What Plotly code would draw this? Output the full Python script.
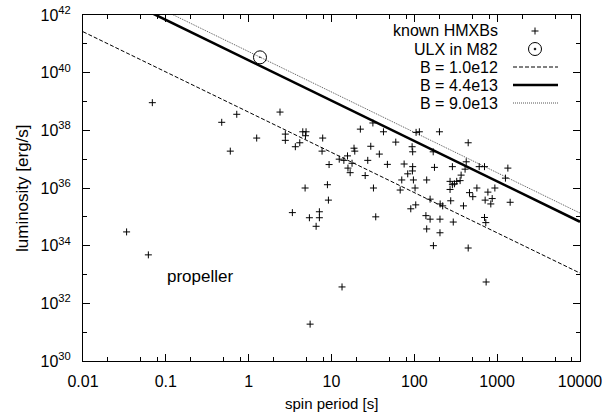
import plotly.graph_objects as go

# ---- data ----
hmxb_period = [0.0336, 0.0615, 0.0687, 0.473, 0.718, 0.60,
               2.39, 1.25, 2.77, 2.77, 4.50, 4.93, 4.85, 4.14, 3.66, 7.83, 7.69, 9.35,
               12.4, 14.1, 15.6, 17.7, 15.8, 16.8, 18.7, 19.1, 22.3, 25.5, 27.4, 29.8,
               37.8, 32.1, 31.6, 42.4, 59.7, 47.3, 75.3, 83.2, 70.5, 67.5,
               4.80, 8.93, 9.18, 3.37, 5.41, 7.14, 7.14, 6.52, 34.2,
               5.52, 13.4, 736,
               105, 115, 201, 94.0, 95.5, 169, 447, 94.8, 95.5, 97.5, 102, 141, 175,
               288, 367, 357, 410, 423, 270, 288, 270, 305, 325, 607, 703, 569, 463,
               508, 773, 716, 871, 838, 938, 1346, 1259, 1435, 155, 205, 220, 275,
               392, 104, 90.6, 138, 155, 204, 295, 141, 204, 170, 447, 703, 729]
hmxb_lum = [3.0e34, 4.8e33, 9.1e38, 1.9e38, 3.6e38, 1.9e37,
            4.3e38, 5.4e37, 7.4e37, 4.5e37, 8.9e37, 8.9e37, 6.5e37, 3.7e37, 2.7e37, 5.4e37, 1.9e37, 6.5e36,
            1.0e37, 9.1e36, 1.3e37, 7.2e36, 4.9e36, 3.4e36, 2.4e37, 1.9e37, 1.1e38, 2.7e36, 9.1e36, 2.8e37,
            1.5e37, 1.0e36, 1.8e38, 8.9e37, 3.9e37, 6.6e36, 6.8e36, 3.1e36, 1.9e36, 8.5e35,
            1.0e36, 1.3e36, 3.8e35, 1.4e35, 9.3e34, 1.5e35, 9.3e34, 4.7e34, 1.0e35,
            1.9e31, 3.7e32, 5.5e32,
            8.5e37, 8.9e37, 8.9e37, 2.7e37, 1.8e37, 1.8e37, 3.7e37, 3.9e36, 5.5e36, 1.9e36, 1.0e36, 1.9e36, 5.2e36,
            5.5e36, 2.8e36, 1.8e36, 4.5e36, 8.1e36, 1.7e36, 1.3e36, 8.9e35, 1.4e36, 1.7e36, 5.5e36, 5.5e36, 1.0e36, 6.9e35,
            5.0e35, 7.2e35, 3.8e35, 4.3e35, 2.8e35, 1.0e36, 4.9e36, 2.2e36, 3.2e35, 4.1e35, 2.8e35, 2.4e35, 3.6e35,
            2.4e35, 2.6e35, 1.9e35, 1.1e35, 8.3e34, 8.3e34, 6.6e34, 3.8e34, 2.8e34, 1.0e34, 8.3e33, 9.5e34, 6.3e34]

ulx_period = [1.37]
ulx_lum = [3.4e40]

line_period = [0.01, 10000]
line_b_1_0e12 = [2.63e41, 1.12e33]
line_b_4_4e13 = [1.70e43, 6.76e34]
line_b_9_0e13 = [3.39e43, 1.35e35]

legend_labels = ["known HMXBs", "ULX in M82", "B = 1.0e12", "B = 4.4e13", "B = 9.0e13"]

x_tickvals = [0.01, 0.1, 1, 10, 100, 1000, 10000]
x_ticktext = ["0.01", "0.1", "1", "10", "100", "1000", "10000"]
x_minorvals = [m * d for d in [0.01, 0.1, 1, 10, 100, 1000] for m in (2, 5, 8)]
y_tickvals = [1e30, 1e32, 1e34, 1e36, 1e38, 1e40, 1e42]
y_ticktext = ["10<sup>30</sup>", "10<sup>32</sup>", "10<sup>34</sup>", "10<sup>36</sup>",
              "10<sup>38</sup>", "10<sup>40</sup>", "10<sup>42</sup>"]
y_minorvals = [1e31, 1e33, 1e35, 1e37, 1e39, 1e41]

FONT = "Liberation Sans, Arial, Helvetica, sans-serif"
PW, PH = 497, 346  # plot-area size in px

fig = go.Figure()
fig.add_trace(go.Scatter(x=line_period, y=line_b_1_0e12, mode="lines",
                         line=dict(color="black", width=1, dash="4px,2px"), showlegend=False))
fig.add_trace(go.Scatter(x=line_period, y=line_b_4_4e13, mode="lines",
                         line=dict(color="black", width=2.6), showlegend=False))
fig.add_trace(go.Scatter(x=line_period, y=line_b_9_0e13, mode="lines",
                         line=dict(color="#555555", width=1, dash="1px,1px"), showlegend=False))
fig.add_trace(go.Scatter(x=hmxb_period, y=hmxb_lum, mode="markers",
                         marker=dict(symbol="cross-thin", size=5, line=dict(color="black", width=1)),
                         showlegend=False))
fig.add_trace(go.Scatter(x=ulx_period, y=ulx_lum, mode="markers",
                         marker=dict(symbol="circle-open-dot", size=13, color="black",
                                     line=dict(color="black", width=1)),
                         showlegend=False))

# manual gnuplot-style legend: text right-aligned, sample on the right
row_px = [31, 49, 67, 85, 103]
row_y = [1 - (p - 15) / PH for p in row_px]
text_x = (500 - 83) / PW
sx0, sx1, sxc = (513 - 83) / PW, (558 - 83) / PW, (535 - 83) / PW
shapes = []
annotations = []
for lab, yy in zip(legend_labels, row_y):
    annotations.append(dict(text=lab, xref="paper", yref="paper", x=text_x, y=yy,
                            xanchor="right", yanchor="middle", showarrow=False,
                            font=dict(family=FONT, size=16, color="black")))
dx, dy = 3.5 / PW, 3.5 / PH
shapes.append(dict(type="line", xref="paper", yref="paper", x0=sxc - dx, x1=sxc + dx,
                   y0=row_y[0], y1=row_y[0], line=dict(color="black", width=1)))
shapes.append(dict(type="line", xref="paper", yref="paper", x0=sxc, x1=sxc,
                   y0=row_y[0] - dy, y1=row_y[0] + dy, line=dict(color="black", width=1)))
rx, ry = 6.5 / PW, 6.5 / PH
shapes.append(dict(type="circle", xref="paper", yref="paper", x0=sxc - rx, x1=sxc + rx,
                   y0=row_y[1] - ry, y1=row_y[1] + ry, line=dict(color="black", width=1)))
shapes.append(dict(type="circle", xref="paper", yref="paper", x0=sxc - 1 / PW, x1=sxc + 1 / PW,
                   y0=row_y[1] - 1 / PH, y1=row_y[1] + 1 / PH, fillcolor="black",
                   line=dict(color="black", width=0.5)))
shapes.append(dict(type="line", xref="paper", yref="paper", x0=sx0, x1=sx1, y0=row_y[2], y1=row_y[2],
                   line=dict(color="black", width=1, dash="4px,2px")))
shapes.append(dict(type="line", xref="paper", yref="paper", x0=sx0, x1=sx1, y0=row_y[3], y1=row_y[3],
                   line=dict(color="black", width=2.6)))
shapes.append(dict(type="line", xref="paper", yref="paper", x0=sx0, x1=sx1, y0=row_y[4], y1=row_y[4],
                   line=dict(color="#555555", width=1, dash="1px,1px")))

annotations.append(dict(text="propeller", x=-0.587, y=32.92, xref="x", yref="y",
                        showarrow=False, xanchor="center", yanchor="middle",
                        font=dict(family=FONT, size=17, color="black")))
# axis titles
annotations.append(dict(text="spin period [s]", xref="paper", yref="paper",
                        x=0.5, y=(361 - 403) / PH, xanchor="center", yanchor="middle",
                        showarrow=False, font=dict(family=FONT, size=15, color="black")))
annotations.append(dict(text="luminosity [erg/s]", xref="paper", yref="paper",
                        x=(22 - 83) / PW, y=0.5, xanchor="center", yanchor="middle", textangle=-90,
                        showarrow=False, font=dict(family=FONT, size=17, color="black")))

fig.update_layout(
    width=612, height=414,
    margin=dict(l=83, r=32, t=15, b=53),
    paper_bgcolor="white", plot_bgcolor="white",
    font=dict(family=FONT, size=16, color="black"),
    showlegend=False,
    shapes=shapes, annotations=annotations,
    xaxis=dict(type="log", range=[-2, 4], tickmode="array", tickvals=x_tickvals, ticktext=x_ticktext,
               ticks="inside", ticklen=7, tickwidth=1, tickcolor="black",
               showline=True, linecolor="black", linewidth=1, mirror="allticks",
               showgrid=False, zeroline=False, ticklabelstandoff=6, automargin=False,
               minor=dict(tickmode="array", tickvals=x_minorvals, ticks="inside", ticklen=4,
                          tickcolor="black", showgrid=False)),
    yaxis=dict(type="log", range=[30, 42], tickmode="array", tickvals=y_tickvals, ticktext=y_ticktext,
               ticks="inside", ticklen=7, tickwidth=1, tickcolor="black",
               showline=True, linecolor="black", linewidth=1, mirror="allticks",
               showgrid=False, zeroline=False, ticklabelstandoff=8, automargin=False,
               minor=dict(tickmode="array", tickvals=y_minorvals, ticks="inside", ticklen=4,
                          tickcolor="black", showgrid=False)),
)

# remove the browser's default 8px body margin so the figure sits at the page origin
fig.write_html("out.html",
               config={"displayModeBar": False},
               post_script="document.body.style.margin='0px';document.body.style.padding='0px';")
